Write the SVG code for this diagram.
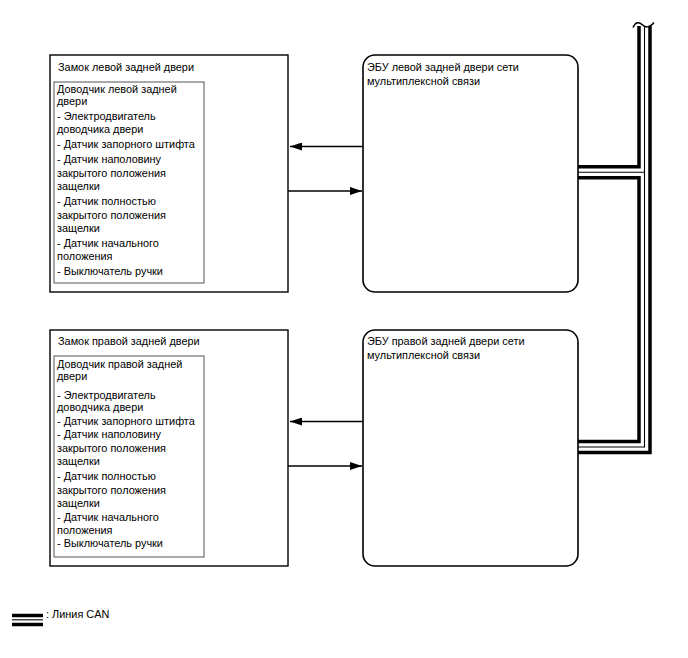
<svg xmlns="http://www.w3.org/2000/svg" width="688" height="658" viewBox="0 0 688 658">
<style>
text{font-family:"Liberation Sans",Arial,sans-serif;font-size:10.9px;fill:#000}
.box{fill:#fff;stroke:#000;stroke-width:1.4}
.inner{fill:none;stroke:#555;stroke-width:1}
.ecu{fill:#fff;stroke:#000;stroke-width:1.6}
.arr{stroke:#000;stroke-width:1.3;fill:none}
.thick{stroke:#000;stroke-width:3.5;fill:none}
.thin{stroke:#000;stroke-width:1.1;fill:none}
</style>
<defs>
<marker id="ah" markerWidth="12" markerHeight="8" refX="12" refY="4" orient="auto" markerUnits="userSpaceOnUse">
<path d="M0,0 L12,4 L0,8 Z" fill="#000"/>
</marker>
</defs>
<rect width="688" height="658" fill="#fff"/>

<g id="lock-left">
<rect class="box" x="50" y="55" width="238" height="237"/>
<text x="58" y="71">Замок левой задней двери</text>
<rect class="inner" x="54" y="82" width="150" height="201"/>
<text x="57" y="93">Доводчик левой задней</text>
<text x="57" y="105">двери</text>
<text x="57" y="120">- Электродвигатель</text>
<text x="57" y="133">доводчика двери</text>
<text x="57" y="148">- Датчик запорного штифта</text>
<text x="57" y="163">- Датчик наполовину</text>
<text x="57" y="177">закрытого положения</text>
<text x="57" y="190">защелки</text>
<text x="57" y="205">- Датчик полностью</text>
<text x="57" y="219">закрытого положения</text>
<text x="57" y="232">защелки</text>
<text x="57" y="247">- Датчик начального</text>
<text x="57" y="260">положения</text>
<text x="57" y="275">- Выключатель ручки</text>
</g>

<g id="lock-right">
<rect class="box" x="50" y="330" width="238" height="236"/>
<text x="58" y="345">Замок правой задней двери</text>
<rect class="inner" x="54" y="356" width="150" height="201"/>
<text x="57" y="367.5">Доводчик правой задней</text>
<text x="57" y="380">двери</text>
<text x="57" y="398.5">- Электродвигатель</text>
<text x="57" y="410.5">доводчика двери</text>
<text x="57" y="425">- Датчик запорного штифта</text>
<text x="57" y="438">- Датчик наполовину</text>
<text x="57" y="451.5">закрытого положения</text>
<text x="57" y="465">защелки</text>
<text x="57" y="480">- Датчик полностью</text>
<text x="57" y="493.5">закрытого положения</text>
<text x="57" y="507">защелки</text>
<text x="57" y="521">- Датчик начального</text>
<text x="57" y="534">положения</text>
<text x="57" y="547">- Выключатель ручки</text>
</g>

<g id="ecu-left">
<rect class="ecu" x="363" y="55" width="215" height="237" rx="12" ry="12"/>
<text x="367" y="71">ЭБУ левой задней двери сети</text>
<text x="367" y="85">мультиплексной связи</text>
</g>

<g id="ecu-right">
<rect class="ecu" x="363" y="330" width="215" height="236" rx="12" ry="12"/>
<text x="367" y="345">ЭБУ правой задней двери сети</text>
<text x="367" y="359">мультиплексной связи</text>
</g>

<g id="connectors">
<line class="arr" x1="363" y1="146.5" x2="290" y2="146.5" marker-end="url(#ah)"/>
<line class="arr" x1="288" y1="191" x2="362" y2="191" marker-end="url(#ah)"/>
<line class="arr" x1="363" y1="421.5" x2="290" y2="421.5" marker-end="url(#ah)"/>
<line class="arr" x1="288" y1="466" x2="362" y2="466" marker-end="url(#ah)"/>

<path class="thick" d="M639,26 V166.8 H578"/>
<path class="thick" d="M578,177.8 H639 V441.5 H578"/>
<path class="thin" d="M644.5,26 V447 H578"/>
<path class="thin" d="M578,172.3 H644.5"/>
<path class="thick" d="M650,26 V452.5 H578"/>
<path d="M633,27.5 C635.5,22 639,21.5 642,24.5 S649,28.5 654,22.5" fill="none" stroke="#000" stroke-width="1.5"/>
</g>

<g id="legend">
<line class="thick" x1="12" y1="615.5" x2="43" y2="615.5"/>
<line class="thin" x1="12" y1="619.8" x2="43" y2="619.8"/>
<line class="thick" x1="12" y1="624.5" x2="43" y2="624.5"/>
<text x="46" y="618">: Линия CAN</text>
</g>
</svg>
